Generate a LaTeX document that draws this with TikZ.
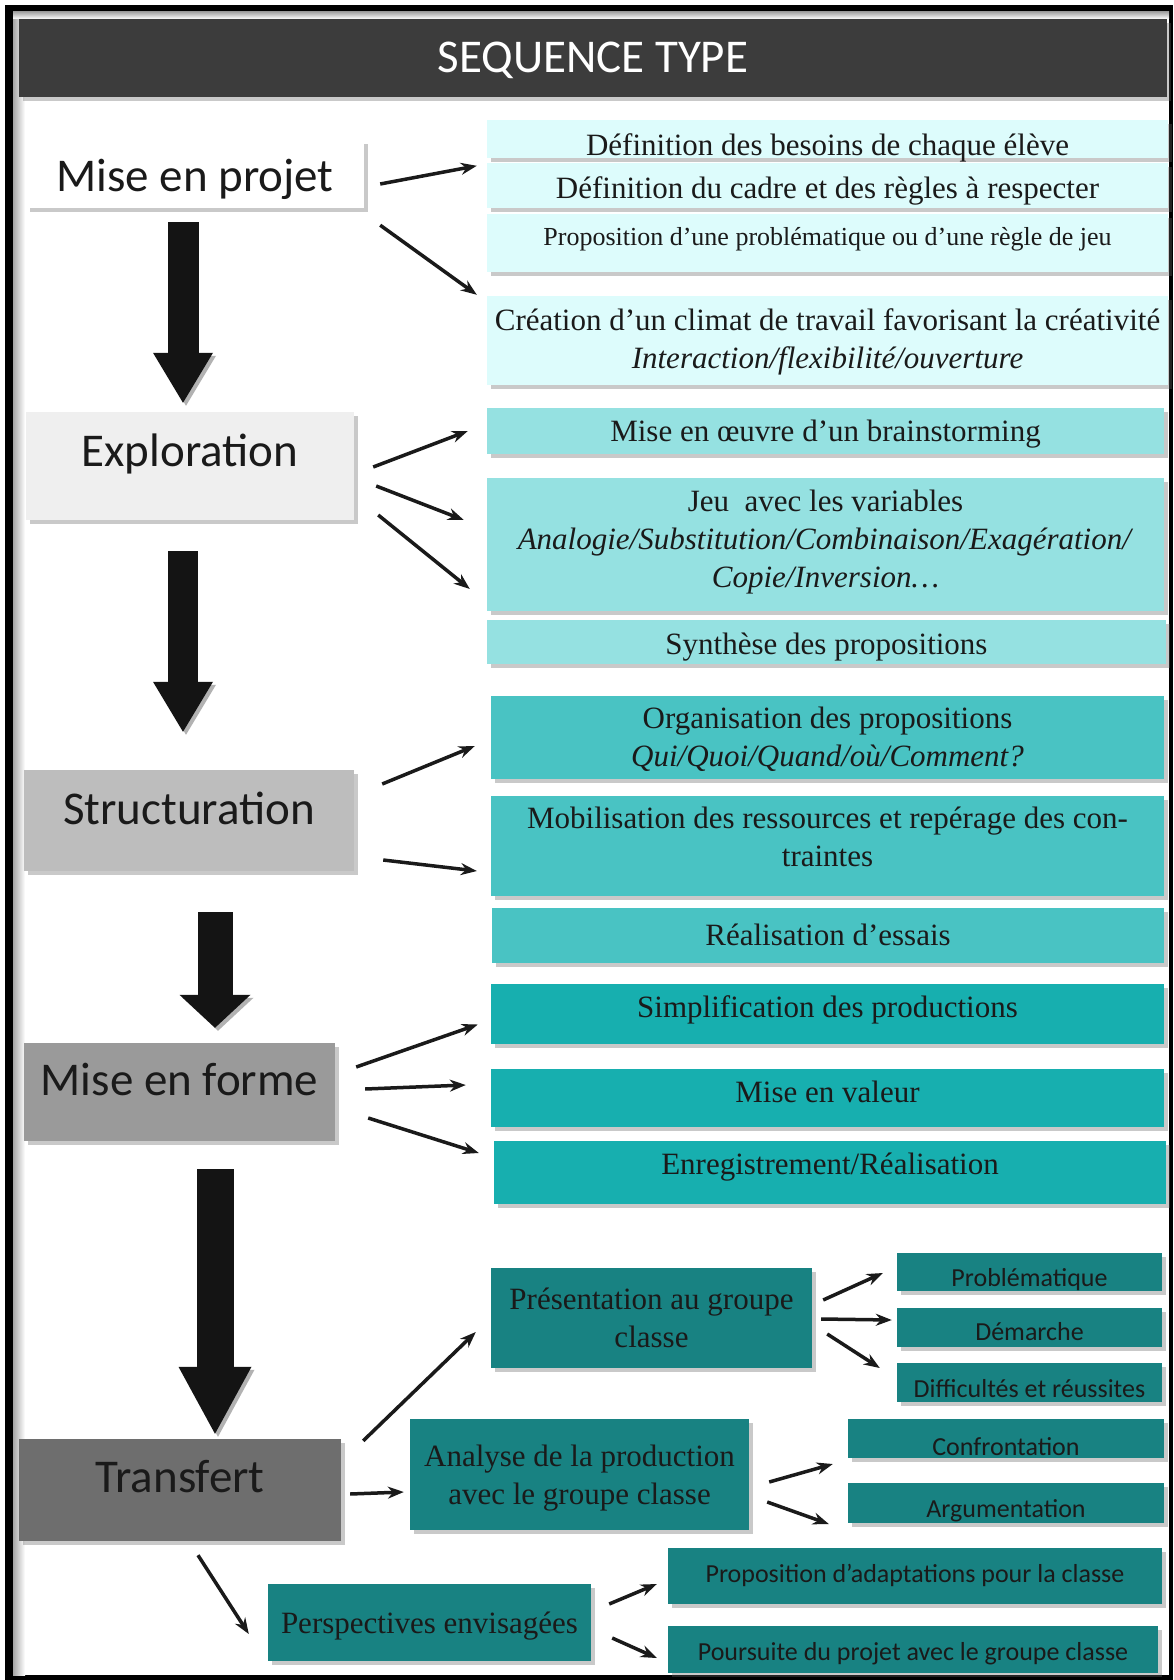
\documentclass[tikz,border=0pt]{standalone}
\usepackage{fontspec}
\setmainfont{Liberation Serif}
\newfontfamily\calib{Carlito}
\usetikzlibrary{positioning}
\usetikzlibrary{calc}
\usetikzlibrary{shadows}
\usetikzlibrary{arrows.meta}
\definecolor{titlegray}{HTML}{3C3C3C}
\definecolor{txt}{HTML}{1A1A1A}
\definecolor{cA}{HTML}{DDFCFC}
\definecolor{cB}{HTML}{95E1E1}
\definecolor{cC}{HTML}{49C3C3}
\definecolor{cD}{HTML}{17AFAF}
\definecolor{cE}{HTML}{188282}
\definecolor{sA}{HTML}{FFFFFF}
\definecolor{sB}{HTML}{EFEFEF}
\definecolor{sC}{HTML}{BDBDBD}
\definecolor{sD}{HTML}{9A9A9A}
\definecolor{sE}{HTML}{6E6E6E}
\definecolor{flowblack}{HTML}{141414}
\tikzset{>={Stealth[length=16pt,width=12pt]}}
\tikzset{shd/.style={drop shadow={shadow xshift=4pt,shadow yshift=-4pt,fill=black!60,opacity=.35}}}
\tikzset{stage/.style={shd,inner sep=0pt,text=txt,font=\calib\fontsize{47}{56}\selectfont,text height=39.5pt,text depth=12pt}}
\tikzset{box/.style={shd,inner sep=0pt,text=txt,align=center,font=\fontsize{31}{38}\selectfont,text height=28pt,text depth=8pt}}
\tikzset{tag/.style={shd,inner sep=0pt,text=txt,fill=cE,font=\calib\fontsize{26}{31}\selectfont,text height=33pt,text depth=3.5pt}}
\tikzset{link/.style={->,line width=3.5pt,draw=txt}}
\tikzset{flow/.style={line width=31pt,draw=flowblack,preaction={draw=black!30,transform canvas={xshift=3pt,yshift=-3pt}},-{Triangle[length=50pt,width=60pt,line width=0pt]}}}

\begin{document}
\begin{tikzpicture}[x=1pt,y=-1pt]
\useasboundingbox (0,0) rectangle (1174,1680);
\fill[black] (5,5) rectangle (1173,1680);
\fill[white] (13,12) rectangle (1169,1675);
\shade[left color=black!35,right color=white] (13,12) rectangle (25,1675);
\shade[top color=black!35,bottom color=white] (13,12) rectangle (1169,19);

\node (title) [shd,fill=titlegray,text=white,inner sep=0pt,minimum width=1148pt,minimum height=78pt,font=\calib\fontsize{47}{56}\selectfont,text height=42pt,text depth=12pt] at (593,58) {SEQUENCE TYPE};

\node (projet) [stage,fill=sA,minimum width=338pt,minimum height=68pt,text height=47.5pt] at (195,174) {Mise en projet};
\node (explo) [stage,fill=sB,minimum width=328pt,minimum height=108pt,text height=41.5pt,text depth=40pt] at (190,466) {Exploration};
\node (struct) [stage,fill=sC,minimum width=330pt,minimum height=101pt,text depth=32pt] at (189,820.5) {Structuration};
\node (forme) [stage,fill=sD,minimum width=311pt,minimum height=98pt,text depth=32pt] at (179.5,1092) {Mise en forme};
\node (transf) [stage,fill=sE,minimum width=322pt,minimum height=102pt,text depth=34pt] at (180,1490) {Transfert};

\node (def1) [box,fill=cA,minimum width=681pt,minimum height=38pt,text height=35pt,text depth=2pt] at (827.5,139) {Définition des besoins de chaque élève};
\node (def2) [box,fill=cA,minimum width=681pt,minimum height=45pt,text height=35pt] at (827.5,185.5) {Définition du cadre et des règles à respecter};
\node (prop) [box,fill=cA,minimum width=681pt,minimum height=58pt,font=\fontsize{26}{31}\selectfont,text height=24.5pt,text depth=18.5pt] at (827.5,243) {Proposition d’une problématique ou d’une règle de jeu};
\node (clim) [box,fill=cA,minimum width=681pt,minimum height=89pt,text height=63pt] at (827.5,340.5) {Création d’un climat de travail favorisant la créativité\\\textit{Interaction/flexibilité/ouverture}};

\node (brain) [box,fill=cB,minimum width=677pt,minimum height=46pt] at (825.5,431) {Mise en œuvre d’un brainstorming};
\node (jeu) [box,fill=cB,minimum width=677pt,minimum height=133pt,text height=94pt] at (825.5,544.5) {Jeu~ avec les variables\\\textit{Analogie/Substitution/Combinaison/Exagération/}\\\textit{Copie/Inversion…}};
\node (synth) [box,fill=cB,minimum width=679pt,minimum height=44pt,text height=33pt] at (826.5,642) {Synthèse des propositions};

\node (orga) [box,fill=cC,minimum width=673pt,minimum height=83pt,text height=66pt] at (827.5,737.5) {Organisation des propositions\\\textit{Qui/Quoi/Quand/où/Comment?}};
\node (mobil) [box,fill=cC,minimum width=673pt,minimum height=100pt,text height=48pt] at (827.5,846) {Mobilisation des ressources et repérage des con-\\traintes};
\node (essai) [box,fill=cC,minimum width=672pt,minimum height=55pt] at (828,935.5) {Réalisation d’essais};

\node (simpl) [box,fill=cD,minimum width=673pt,minimum height=60pt,text height=26.5pt,text depth=20pt] at (827.5,1014) {Simplification des productions};
\node (valeur) [box,fill=cD,minimum width=673pt,minimum height=58pt,text height=26.5pt,text depth=18pt] at (827.5,1098) {Mise en valeur};
\node (enreg) [box,fill=cD,minimum width=672pt,minimum height=63pt,text height=26.5pt,text depth=22pt] at (830,1172.5) {Enregistrement/Réalisation};

\node (pres) [box,fill=cE,minimum width=321pt,minimum height=100pt,text height=66.5pt] at (651.5,1318) {Présentation au groupe\\classe};
\node (pbm) [tag,minimum width=265pt,minimum height=38pt] at (1029.5,1272) {Problématique};
\node (dem) [tag,minimum width=265pt,minimum height=39pt,text height=31pt,text depth=4.5pt] at (1029.5,1327.5) {Démarche};
\node (diff) [tag,minimum width=265pt,minimum height=39pt] at (1029.5,1382.5) {Difficultés et réussites};

\node (analyse) [box,fill=cE,minimum width=339pt,minimum height=111pt,text height=68pt] at (579.5,1474.5) {Analyse de la production\\avec le groupe classe};
\node (confr) [tag,minimum width=316pt,minimum height=39pt,text height=35pt,text depth=1.5pt] at (1006,1438.5) {Confrontation};
\node (argu) [tag,minimum width=316pt,minimum height=40pt] at (1006,1503) {Argumentation};

\node (persp) [box,fill=cE,minimum width=323pt,minimum height=77pt,text height=30.5pt] at (429.5,1622.5) {Perspectives envisagées};
\node (adapt) [tag,minimum width=494pt,minimum height=56pt,text height=19pt,text depth=6.5pt] at (915,1576) {Proposition d’adaptations pour la classe};
\node (pours) [tag,minimum width=490pt,minimum height=47pt,text height=27.5pt,text depth=6.5pt] at (913,1649.5) {Poursuite du projet avec le groupe classe};

\draw[flow] ($(projet.south)+(-12,14)$) -- ($(explo.north)+(-7,-9)$);
\draw[flow,line width=30pt] ($(explo.south)+(-7,31)$) -- ($(struct.north)+(-6,-38)$);
\draw[flow,line width=35pt,-{Triangle[length=33pt,width=71pt,line width=0pt]}] ($(struct.south)+(26,41)$) -- ($(forme.north)+(35.5,-15)$);
\draw[flow,line width=37pt,-{Triangle[length=67pt,width=73pt,line width=0pt]}] ($(forme.south)+(35.5,28)$) -- ($(transf.north)+(35,-5)$);

\draw[link] ($(projet.east)+(16,10)$) -- ($(def2.north west)+(-10,3)$);
\draw[link] ($(projet.south east)+(16,17)$) -- ($(clim.north west)+(-10,-1)$);
\draw[link] ($(explo.east)+(19,1)$) -- ($(brain.west)+(-19,0)$);
\draw[link] ($(explo.east)+(22,20)$) -- ($(jeu.west)+(-23,-24.5)$);
\draw[link] ($(explo.east)+(24,49)$) -- ($(jeu.west)+(-17,44.5)$);
\draw[link] ($(struct.east)+(28,-36.5)$) -- ($(orga.west)+(-16,8.5)$);
\draw[link] ($(struct.east)+(29,39.5)$) -- ($(mobil.west)+(-14,25)$);
\draw[link] ($(forme.east)+(21,-25)$) -- ($(simpl.west)+(-13,10.5)$);
\draw[link] ($(forme.east)+(30,-3)$) -- ($(valeur.west)+(-25,-13)$);
\draw[link] ($(forme.east)+(33,26)$) -- ($(enreg.west)+(-15,-19.5)$);
\draw[link] ($(transf.north east)+(22,2)$) -- ($(pres.west)+(-15,14)$);
\draw[link] ($(transf.east)+(9,4)$) -- ($(analyse.west)+(-6,17.5)$);
\draw[link] ($(transf.south)+(18,14)$) -- ($(persp.west)+(-19,11.5)$);
\draw[link] ($(pres.east)+(11,-18)$) -- ($(pbm.west)+(-14,1)$);
\draw[link] ($(pres.east)+(9,1)$) -- ($(dem.west)+(-5,-7.5)$);
\draw[link] ($(pres.east)+(15,16)$) -- ($(diff.west)+(-17,-14.5)$);
\draw[link] ($(analyse.east)+(20,7.5)$) -- ($(confr.west)+(-15,25.5)$);
\draw[link] ($(analyse.east)+(18,27.5)$) -- ($(argu.west)+(-19,21)$);
\draw[link] ($(persp.east)+(18,-18.5)$) -- ($(adapt.west)+(-11,8)$);
\draw[link] ($(persp.east)+(21,15.5)$) -- ($(pours.west)+(-11,8.5)$);
\end{tikzpicture}
\end{document}
